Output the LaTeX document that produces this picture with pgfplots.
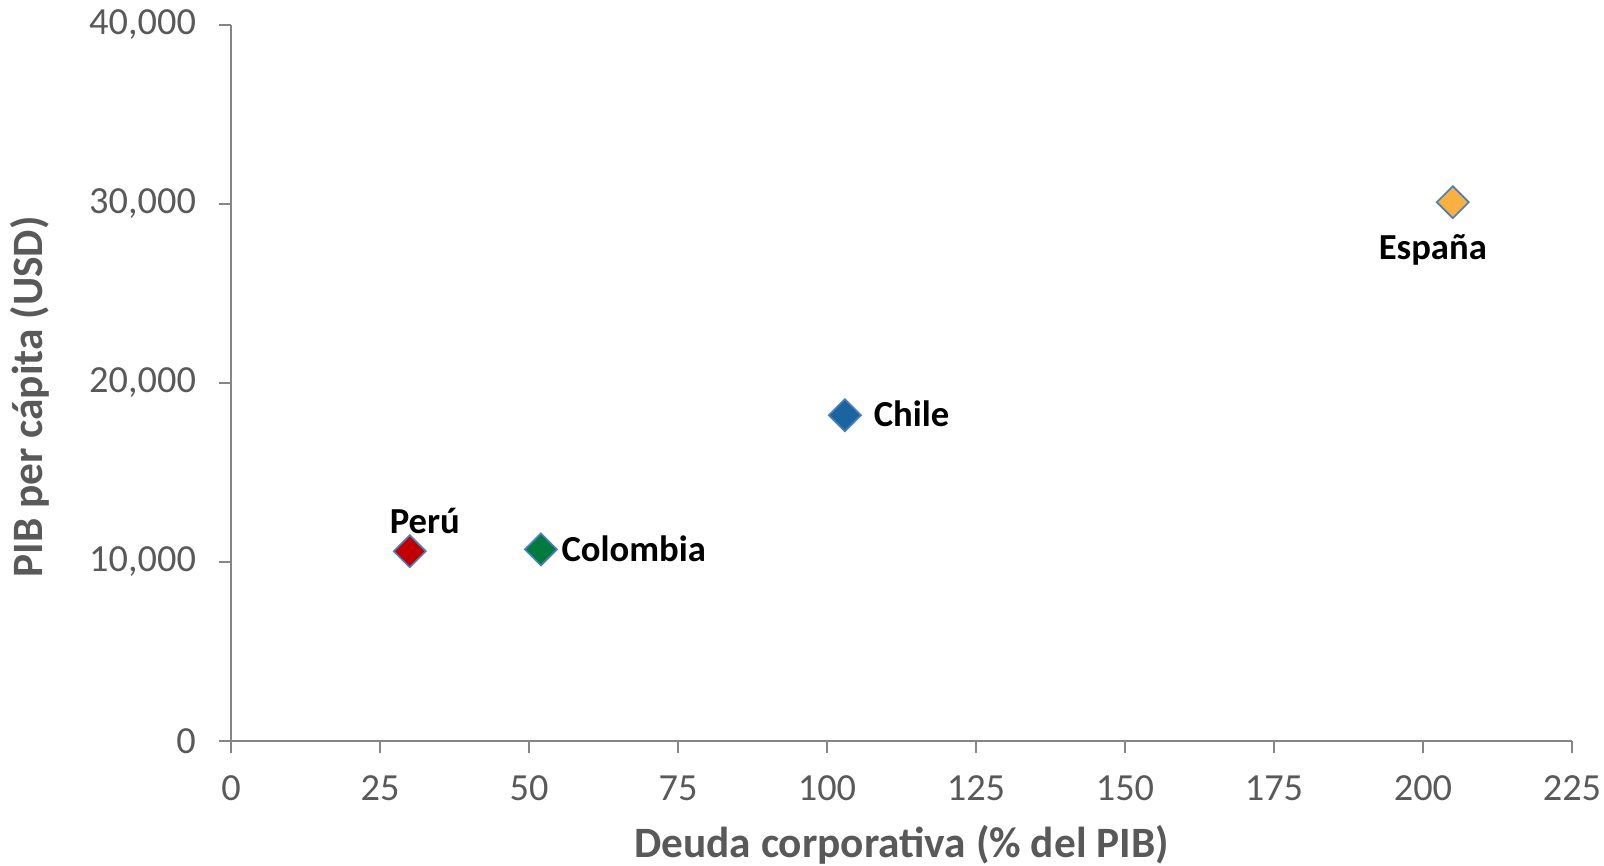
\documentclass[border=0pt]{standalone}
\usepackage{fontspec}
\setmainfont{Carlito}
\usepackage{pgfplots}
\pgfplotsset{compat=1.18}

\definecolor{axisgray}{HTML}{868686}
\definecolor{textgray}{HTML}{595959}
\definecolor{peru}{HTML}{C00000}
\definecolor{colombia}{HTML}{007A3D}
\definecolor{chile}{HTML}{1A64A0}
\definecolor{espana}{HTML}{F8B040}
\definecolor{edge}{HTML}{4A7EBB}

\begin{document}
\begin{tikzpicture}
	\begin{axis}[
			scale only axis,
			width=402.3pt,
			height=214.8pt,
			xmin=0, xmax=225,
			ymin=0, ymax=40000,
			xtick={0,25,...,225},
			ytick={0,10000,20000,30000,40000},
			axis lines=left,
			axis line style={-, axisgray, line width=0.7pt},
			tick style={axisgray, line width=0.7pt},
			tick align=outside,
			major tick length=3.6pt,
			clip=false,
			/pgf/number format/.cd, 1000 sep={,}, assume math mode=true,
			/pgfplots/.cd,
			scaled y ticks=false,
			ticklabel style={font=\fontsize{11.5}{13}\selectfont, text=textgray},
			xticklabel style={yshift=-3.4pt},
			yticklabel style={xshift=-3.4pt},
			xlabel={Deuda corporativa (\% del PIB)},
			ylabel={PIB per cápita (USD)},
			label style={font=\fontsize{13}{15}\selectfont\bfseries, text=textgray},
			xlabel style={at={(axis description cs:0.5,-0.1634)}, anchor=base},
			ylabel style={at={(axis description cs:-0.1402,0.4805)}, anchor=base, rotate=0},
			every node near coord/.append style={font=\fontsize{11}{13}\selectfont\bfseries, text=black},
			point meta=explicit symbolic,
			nodes near coords,
		]

		% Perú
		\addplot[only marks, mark=square*, mark size=3.4pt,
			mark options={rotate=45, fill=peru, draw=edge, line width=0.5pt},
			nodes near coords style={anchor=base, xshift=4.5pt, yshift=5.4pt}]
			coordinates {(30,10600) [Perú]};

		% Colombia
		\addplot[only marks, mark=square*, mark size=3.4pt,
			mark options={rotate=45, fill=colombia, draw=edge, line width=0.5pt},
			nodes near coords style={anchor=base west, xshift=2.6pt, yshift=-3.5pt}]
			coordinates {(52,10700) [Colombia]};

		% Chile
		\addplot[only marks, mark=square*, mark size=3.4pt,
			mark options={rotate=45, fill=chile, draw=edge, line width=0.5pt},
			nodes near coords style={anchor=base west, xshift=5.1pt, yshift=-3.5pt}]
			coordinates {(103,18200) [Chile]};

		% España
		\addplot[only marks, mark=square*, mark size=3.4pt,
			mark options={rotate=45, fill=espana, draw=edge, line width=0.5pt},
			nodes near coords style={anchor=base, xshift=-6pt, yshift=-17.2pt}]
			coordinates {(205,30100) [España]};

	\end{axis}
	\pgfresetboundingbox
	\path ([xshift=-69.3pt, yshift=-37.5pt]current axis.south west)
		rectangle ([xshift=9.6pt, yshift=7.5pt]current axis.north east);
\end{tikzpicture}
\end{document}
